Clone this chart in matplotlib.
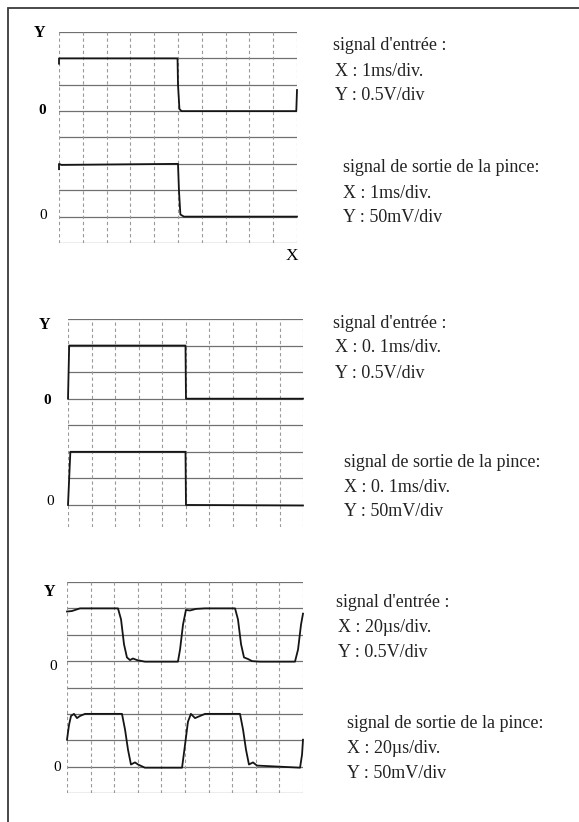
import numpy as np
import matplotlib.pyplot as plt
from matplotlib.patches import Rectangle

# figure is 579 x 822 px; positions below are given in px and converted
W, H = 579.0, 822.0

# --- panel 1 : 1ms/div, input 0.5V/div, output 50mV/div
t1_ms = [0.0, 0.0, 0.08, 4.98, 5.0, 5.06, 5.15, 9.97, 10.0]
vin1 = [0.9, 1.0, 1.0, 1.0, 0.5, 0.04, 0.0, 0.0, 0.4]
t1o_ms = [0.0, 0.0, 0.1, 5.0, 5.04, 5.1, 5.25, 10.0]
vout1 = [90, 100, 98, 100, 50, 4, 0, 0]

# --- panel 2 : 0.1ms/div
t2_ms = [0.0, 0.005, 0.5, 0.502, 1.0]
vin2 = [0.0, 1.0, 1.0, 0.0, 0.0]
t2o_ms = [0.0, 0.01, 0.5, 0.502, 1.0]
vout2 = [0, 100, 100, 0, -1]

# --- panel 3 : 20us/div
t3_us = [0, 4.2, 11, 43.2, 45.8, 48.3, 50.8, 53.4, 55.9, 59.3, 66, 94, 95.8,
         98.3, 100.8, 104.2, 109.3, 117, 142.4, 144.9, 147.5, 150, 153.4,
         156.8, 163.6, 193.2, 195.8, 198.3, 200]
vin3 = [0.94, 0.95, 1.0, 1.0, 0.79, 0.32, 0.07, 0.02, 0.05, 0.02, -0.01,
        -0.01, 0.22, 0.69, 0.97, 0.96, 0.99, 1.0, 1.0, 0.79, 0.32, 0.07,
        0.04, 0.0, -0.01, -0.01, 0.22, 0.69, 0.9]
t3o_us = [0, 1.7, 3.4, 5.9, 8.5, 11, 15.3, 46.6, 49.2, 51.7, 54.2, 57.6,
          60.2, 66, 97.5, 100, 102.5, 105, 108.5, 112.7, 117, 146.6, 149.2,
          151.7, 154.2, 157.6, 161, 197.5, 199.2, 200]
vout3 = [51, 79, 96, 100, 92, 96, 100, 100, 70, 32, 4, 8, 4, -2, -2, 41, 85,
         100, 92, 96, 100, 100, 70, 32, 4, 8, 2, -2, 23, 51]

panels = [
    dict(box=(59, 297, 32, 243), ybot=0.0, hlines=range(0, 9),
         t=t1_ms, vin=vin1, to=t1o_ms, vout=vout1, tdiv=1.0,
         xlab="1ms/div."),
    dict(box=(68, 303, 319, 527), ybot=0.17, hlines=range(1, 9),
         t=t2_ms, vin=vin2, to=t2o_ms, vout=vout2, tdiv=0.1,
         xlab="0. 1ms/div."),
    dict(box=(67, 303, 582, 793), ybot=0.0, hlines=range(0, 9),
         t=t3_us, vin=vin3, to=t3o_us, vout=vout3, tdiv=20.0,
         xlab="20µs/div."),
]

vin_div = 0.5     # V/div
vout_div = 50.0   # mV/div
in_zero = 5       # division where the input trace sits at 0
out_zero = 1      # division where the output trace sits at 0

serif = ['Liberation Serif', 'DejaVu Serif']
plt.rcParams['font.family'] = serif

fig = plt.figure(figsize=(W / 100, H / 100), dpi=100)

# page frame (top and left edges of the scanned page)
fig.patches.append(Rectangle((8 / W, -0.1), 1.2, (822 - 8) / H + 0.1,
                             transform=fig.transFigure, fill=False,
                             ec='#3a3a3a', lw=1.3))


def fx(x):
    return x / W


def fy(y):
    return 1 - y / H


for p in panels:
    l, r, t, b = p['box']
    ax = fig.add_axes([fx(l), fy(b), (r - l) / W, (b - t) / H])
    ax.set_xlim(0, 10)
    ax.set_ylim(p['ybot'], 8)
    ax.set_axis_off()
    for k in p['hlines']:
        ax.axhline(k, color='#707070', lw=0.9)
    for k in range(11):
        ax.axvline(k, color='#9a9a9a', lw=0.8, ls=(0, (3, 2.5)))
    xi = np.array(p['t']) / p['tdiv']
    yi = np.array(p['vin']) / vin_div + in_zero
    ax.plot(xi, yi, color='#151515', lw=1.3, clip_on=False)
    xo = np.array(p['to']) / p['tdiv']
    yo = np.array(p['vout']) / vout_div + out_zero
    ax.plot(xo, yo, color='#151515', lw=1.3, clip_on=False)

# axis letters on the grids
fig.text(fx(40), fy(33), "Y", fontsize=11.5, fontweight='bold', ha='center', va='center')
fig.text(fx(42), fy(111), "0", fontsize=11, fontweight='bold', ha='center', va='center')
fig.text(fx(43), fy(215), "0", fontsize=11, ha='center', va='center')
fig.text(fx(292), fy(256), "X", fontsize=12.5, ha='center', va='center')

fig.text(fx(45), fy(325), "Y", fontsize=11.5, fontweight='bold', ha='center', va='center')
fig.text(fx(47), fy(400), "0", fontsize=11, fontweight='bold', ha='center', va='center')
fig.text(fx(50), fy(501), "0", fontsize=11, ha='center', va='center')

fig.text(fx(50), fy(592), "Y", fontsize=11.5, fontweight='bold', ha='center', va='center')
fig.text(fx(53), fy(667), "0", fontsize=11, ha='center', va='center')
fig.text(fx(57), fy(767), "0", fontsize=11, ha='center', va='center')

# side notes
notes = [
    (333, 46, 343, 168, "1ms/div."),
    (333, 323, 344, 462, "0. 1ms/div."),
    (336, 602, 347, 723, "20µs/div."),
]
fs = 13
for x1, y1, x2, y2, xl in notes:
    fig.text(fx(x1), fy(y1), "signal d'entrée :", fontsize=fs, va='center', color='#222222')
    fig.text(fx(x1 + 2), fy(y1 + 25), "X : " + xl, fontsize=fs, va='center', color='#222222')
    fig.text(fx(x1 + 2), fy(y1 + 50), "Y : 0.5V/div", fontsize=fs, va='center', color='#222222')
    fig.text(fx(x2), fy(y2), "signal de sortie de la pince:", fontsize=fs, va='center', color='#222222')
    fig.text(fx(x2), fy(y2 + 25), "X : " + xl, fontsize=fs, va='center', color='#222222')
    fig.text(fx(x2), fy(y2 + 50), "Y : 50mV/div", fontsize=fs, va='center', color='#222222')

fig.savefig("out.png", dpi=100, facecolor='white')
